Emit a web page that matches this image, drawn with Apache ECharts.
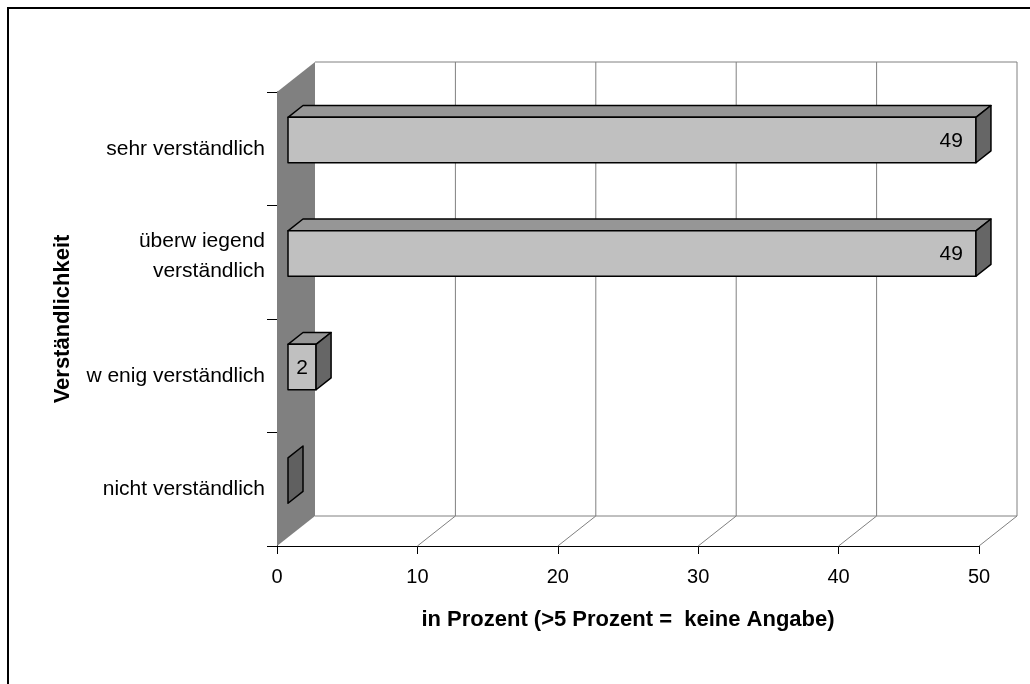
<!DOCTYPE html>
<html>
<head>
<meta charset="utf-8">
<script src="https://cdn.jsdelivr.net/npm/echarts@6/dist/echarts.min.js"></script>
<style>
html,body{margin:0;padding:0;background:#fff;}
#chart{width:1030px;height:684px;}
</style>
</head>
<body>
<div id="chart"></div>
<script>
// ---- data ----
const categories = ['sehr verständlich', 'überw iegend\nverständlich', 'w enig verständlich', 'nicht verständlich'];
const values = [49, 49, 2, 0];
const xMin = 0, xMax = 50, xInterval = 10;
const xTitle = 'in Prozent (>5 Prozent =  keine Angabe)';
const yTitle = 'Verständlichkeit';

// ---- 3D look (style only) ----
const DX = 38, DY = -30;          // depth of the walls
const F1 = 11 / 38, F2 = 26 / 38; // bar front/back depth fractions
const FONT = '"Liberation Sans", Arial, sans-serif';

const chart = echarts.init(document.getElementById('chart'), null, {renderer: 'canvas'});

function wallRender(params, api) {
  const cs = params.coordSys;
  const x = cs.x, y = cs.y, w = cs.width, h = cs.height;
  const gray = '#808080';
  const children = [];
  children.push({type: 'polygon', shape: {points: [[x, y], [x + DX, y + DY], [x + DX, y + h + DY], [x, y + h]]},
    style: {fill: gray, stroke: null}});
  const ln = (x1, y1, x2, y2) => ({type: 'line', shape: {x1, y1, x2, y2}, style: {stroke: gray, lineWidth: 1}});
  children.push(ln(x + DX, y + DY, x + w + DX, y + DY));
  children.push(ln(x + DX, y + h + DY, x + w + DX, y + h + DY));
  for (let v = xMin + xInterval; v <= xMax; v += xInterval) {
    const px = api.coord([v, 0])[0];
    children.push(ln(px + DX, y + DY, px + DX, y + h + DY));
    children.push(ln(px, y + h, px + DX, y + h + DY));
  }
  return {type: 'group', children};
}

function barRender(params, api) {
  const v = api.value(0), ci = api.value(1);
  const p0 = api.coord([0, ci]);
  const p1 = api.coord([v, ci]);
  const band = api.size([0, 1])[1];
  const bh = band * 0.4;
  const fx = DX * F1, fy = DY * F1;
  const dx = DX * (F2 - F1), dy = DY * (F2 - F1);
  const x0 = p0[0] + fx, x1 = p1[0] + fx;
  const yT = p0[1] - bh / 2 + fy, yB = yT + bh;
  const st = (fill) => ({fill, stroke: '#000', lineWidth: 1.5, lineJoin: 'round'});
  const children = [];
  if (x1 - x0 > 0.5) {
    children.push({type: 'polygon', shape: {points: [[x0, yT], [x0 + dx, yT + dy], [x1 + dx, yT + dy], [x1, yT]]}, style: st('#969696')});
    children.push({type: 'rect', shape: {x: x0, y: yT, width: x1 - x0, height: bh}, style: st('#c0c0c0')});
  }
  children.push({type: 'polygon', shape: {points: [[x1, yT], [x1 + dx, yT + dy], [x1 + dx, yB + dy], [x1, yB]]}, style: st(x1 - x0 > 0.5 ? '#666666' : '#606060')});
  if (v > 0) {
    const wide = x1 - x0 > 40;
    children.push({type: 'text', style: {text: String(v), x: wide ? x1 - 13 : (x0 + x1) / 2, y: (yT + yB) / 2 + 1,
      align: wide ? 'right' : 'center', verticalAlign: 'middle', fontSize: 21, fontFamily: FONT, fill: '#000'}});
  }
  return {type: 'group', children};
}

chart.setOption({
  animation: false,
  backgroundColor: '#fff',
  grid: {left: 277, right: 51, top: 92, bottom: 138, containLabel: false},
  xAxis: {
    type: 'value', min: xMin, max: xMax, interval: xInterval,
    name: xTitle, nameLocation: 'middle', nameGap: 63,
    nameTextStyle: {fontSize: 22, fontWeight: 'bold', fontFamily: FONT, color: '#000'},
    axisLine: {show: true, lineStyle: {color: '#000', width: 1}},
    axisTick: {show: true, length: 8, lineStyle: {color: '#000'}},
    axisLabel: {fontSize: 20, fontFamily: FONT, color: '#000', margin: 21},
    splitLine: {show: false}
  },
  yAxis: {
    type: 'category', data: categories, inverse: true,
    name: yTitle, nameLocation: 'middle', nameGap: 203, nameRotate: 90,
    nameTextStyle: {fontSize: 22, fontWeight: 'bold', fontFamily: FONT, color: '#000'},
    axisLine: {show: true, lineStyle: {color: '#000', width: 1}},
    axisTick: {show: true, length: 10, lineStyle: {color: '#000'}},
    axisLabel: {
      fontSize: 21, fontFamily: FONT, color: '#000', margin: 12, lineHeight: 30,
      formatter: (v) => v.indexOf('\n') >= 0 ? '{m|' + v.split('\n').join('}\n{m|') + '}\n{e| }' : v,
      rich: {m: {fontSize: 21, fontFamily: FONT, color: '#000', lineHeight: 30}, e: {fontSize: 8, lineHeight: 12}}
    },
    splitLine: {show: false}
  },
  graphic: [{type: 'rect', shape: {x: 8, y: 8, width: 1100, height: 800}, style: {fill: null, stroke: '#000', lineWidth: 2}, z: 100}],
  series: [
    {type: 'custom', renderItem: wallRender, data: [[0, 0]], z: 1, silent: true, clip: false},
    {type: 'custom', renderItem: barRender, data: values.map((v, i) => [v, i]), z: 5, clip: false,
      encode: {x: 0, y: 1}}
  ]
});
</script>
</body>
</html>
